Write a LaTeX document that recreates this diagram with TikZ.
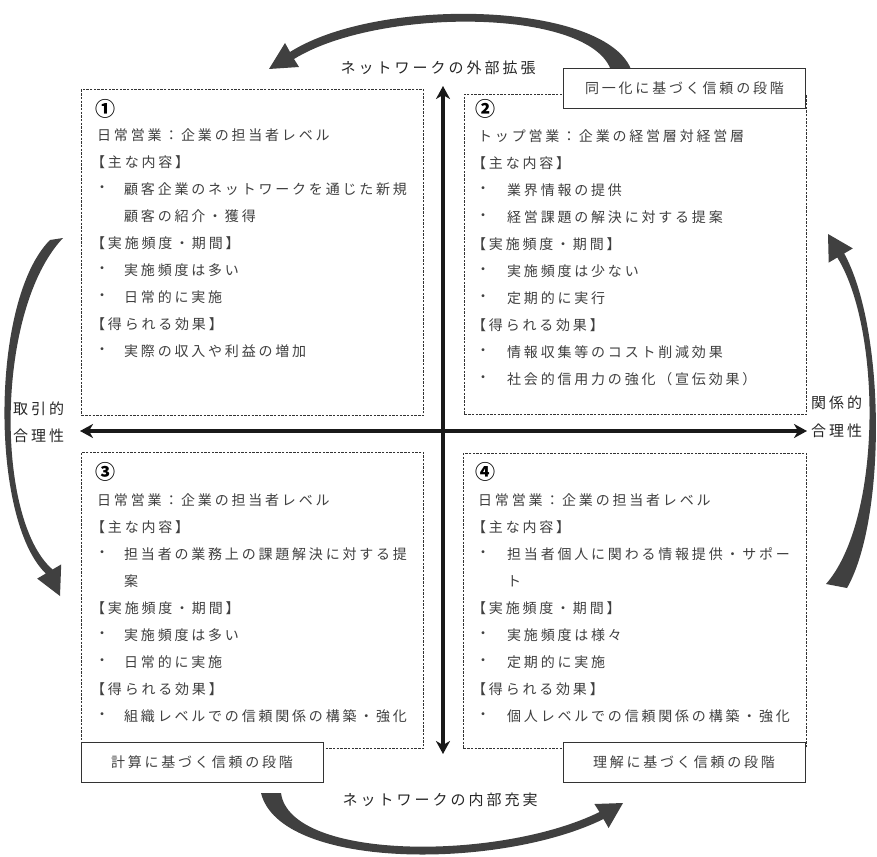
\documentclass[tikz,border=0pt]{standalone}
\usepackage{fontspec}
\newfontfamily\jpf{Noto Sans CJK JP}[LetterSpace=20]
\newfontfamily\jpl{Noto Sans CJK JP}[LetterSpace=20]
\newfontfamily\jpn{Noto Sans CJK JP}
\usetikzlibrary{arrows.meta}
\definecolor{txtgray}{HTML}{404040}
\definecolor{swc}{HTML}{404040}
\tikzset{
  txt/.style={anchor=west, inner sep=0pt, font=\jpf\fontsize{14}{16}\selectfont, text=txtgray},
  bul/.style={anchor=center, inner sep=0pt, font=\jpf\fontsize{14}{16}\selectfont, text=txtgray},
  numl/.style={anchor=west, inner sep=0pt, font=\jpn\bfseries\fontsize{20}{22}\selectfont, text=black},
  qbox/.style={draw=black!80, dash pattern=on 2.4pt off 1.3pt, line width=0.8pt, fill=white, inner sep=0pt, anchor=north west},
  lbox/.style={draw=black!80, line width=0.9pt, fill=white, inner sep=0pt, minimum width=242pt, minimum height=40pt, font=\jpf\fontsize{14}{16}\selectfont, text=txtgray},
  axl/.style={line width=3.4pt, black!90, {Stealth[length=13pt,width=14pt,inset=4pt]}-{Stealth[length=13pt,width=14pt,inset=4pt]}},
  lab/.style={inner sep=0pt, font=\jpl\fontsize{15}{17}\selectfont, text=black!85},
  swoosh/.style={fill=swc}
}
\newcommand\qline[4]{\node[txt] (#1) at (#2,#3) {#4};}
\newcommand\qbul[5]{\node[bul] (#1b) at (#2,#4) {・}; \node[txt] (#1) at (#3,#4) {#5};}
\begin{document}
\begin{tikzpicture}[x=1pt,y=-1pt]
\useasboundingbox (0,0) rectangle (877,856);
\fill[white] (0,0) rectangle (877,856);

% curved arrows
\fill[swoosh] (632,72) .. controls (610,2) and (380,-5) .. (290,52) -- (285,43) -- (269,69) -- (299,67) -- (294,59) .. controls (380,6) and (598,8) .. (612,74) -- cycle;
\fill[swoosh] (261,793) .. controls (280,870) and (500,870) .. (603.5,819) -- (608.6,828) -- (623,803) -- (594.4,804) -- (599.5,812) .. controls (500,861) and (290,861) .. (281,793) -- cycle;
\fill[swoosh] (50,240) .. controls (-10,300) and (-10,520) .. (45.8,573.5) -- (37.2,578.6) -- (60,596) -- (61.2,564.4) -- (52.6,569.5) .. controls (-5,520) and (-5,310) .. (63,238) -- cycle;
\fill[swoosh] (847,588) .. controls (886,520) and (886,330) .. (844.2,253.5) -- (852.8,248.4) -- (828,234) -- (828.7,262.6) -- (837.3,257.5) .. controls (882,330) and (882,520) .. (826,584) -- cycle;

% quadrant boxes
\node[qbox, minimum width=342pt, minimum height=326pt] (q1) at (81,89) {};
\node[qbox, minimum width=342pt, minimum height=320pt] (q2) at (464,94) {};
\node[qbox, minimum width=342pt, minimum height=296pt] (q3) at (81,452) {};
\node[qbox, minimum width=343pt, minimum height=295pt] (q4) at (463,453) {};

% axes
\coordinate (vt) at (443,86);
\coordinate (vb) at (443,754);
\coordinate (hl) at (80,431);
\coordinate (hr) at (807,431);
\draw[axl] (vb) -- (vt);
\draw[axl] (hl) -- (hr);

% stage label boxes
\node[lbox] (s1) at (684.5,88) {同一化に基づく信頼の段階};
\node[lbox] (s2) at (202,762.5) {計算に基づく信頼の段階};
\node[lbox] (s3) at (684,762.5) {理解に基づく信頼の段階};

% axis labels
\node[lab] (ext) at (438,68) {ネットワークの外部拡張};
\node[lab] (int) at (440,800) {ネットワークの内部充実};
\node[lab, anchor=west] (l1) at (13,409) {取引的};
\node[lab, anchor=west] (l2) at (13,436) {合理性};
\node[lab, anchor=west] (r1) at (811,403) {関係的};
\node[lab, anchor=west] (r2) at (811,431) {合理性};

% box 1
\node[numl] (n1) at (95,109) {①};
\qline{a1}{97}{135}{日常営業：企業の担当者レベル}
\qline{a2}{91}{162}{【主な内容】}
\qbul{a3}{102}{124}{189}{顧客企業のネットワークを通じた新規}
\qline{a4}{124}{216}{顧客の紹介・獲得}
\qline{a5}{91}{243}{【実施頻度・期間】}
\qbul{a6}{102}{124}{270}{実施頻度は多い}
\qbul{a7}{102}{124}{297}{日常的に実施}
\qline{a8}{91}{324}{【得られる効果】}
\qbul{a9}{102}{124}{351}{実際の収入や利益の増加}

% box 2
\node[numl] (n2) at (475,109) {②};
\qline{b1}{478}{136}{トップ営業：企業の経営層対経営層}
\qline{b2}{472}{163}{【主な内容】}
\qbul{b3}{483}{507}{190}{業界情報の提供}
\qbul{b4}{483}{507}{217}{経営課題の解決に対する提案}
\qline{b5}{472}{244}{【実施頻度・期間】}
\qbul{b6}{483}{507}{271}{実施頻度は少ない}
\qbul{b7}{483}{507}{298}{定期的に実行}
\qline{b8}{472}{325}{【得られる効果】}
\qbul{b9}{483}{507}{352}{情報収集等のコスト削減効果}
\qbul{b10}{483}{507}{379}{社会的信用力の強化（宣伝効果）}

% box 3
\node[numl] (n3) at (95,472) {③};
\qline{c1}{97}{500}{日常営業：企業の担当者レベル}
\qline{c2}{91}{527}{【主な内容】}
\qbul{c3}{102}{124}{554}{担当者の業務上の課題解決に対する提}
\qline{c4}{124}{581}{案}
\qline{c5}{91}{608}{【実施頻度・期間】}
\qbul{c6}{102}{124}{635}{実施頻度は多い}
\qbul{c7}{102}{124}{662}{日常的に実施}
\qline{c8}{91}{689}{【得られる効果】}
\qbul{c9}{102}{124}{716}{組織レベルでの信頼関係の構築・強化}

% box 4
\node[numl] (n4) at (475,472) {④};
\qline{d1}{478}{500}{日常営業：企業の担当者レベル}
\qline{d2}{472}{527}{【主な内容】}
\qbul{d3}{483}{507}{554}{担当者個人に関わる情報提供・サポー}
\qline{d4}{507}{581}{ト}
\qline{d5}{472}{608}{【実施頻度・期間】}
\qbul{d6}{483}{507}{635}{実施頻度は様々}
\qbul{d7}{483}{507}{662}{定期的に実施}
\qline{d8}{472}{689}{【得られる効果】}
\qbul{d9}{483}{507}{716}{個人レベルでの信頼関係の構築・強化}
\end{tikzpicture}
\end{document}
